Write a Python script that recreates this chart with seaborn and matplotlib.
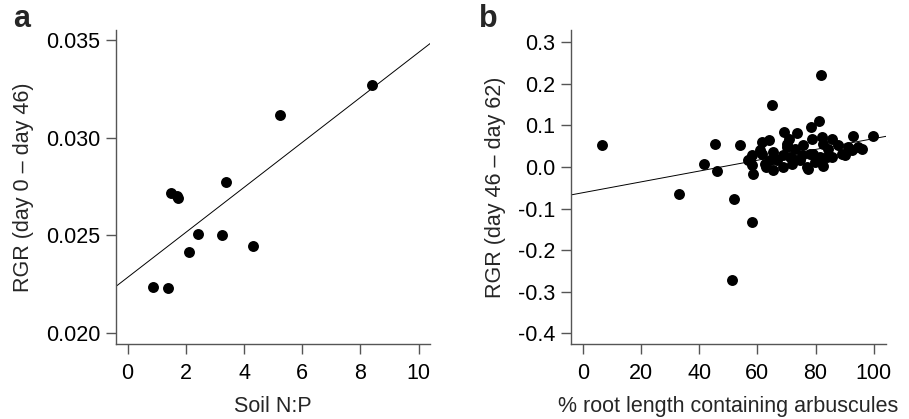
import numpy as np
import pandas as pd
import matplotlib
matplotlib.use('Agg')
import matplotlib.pyplot as plt
import seaborn as sns

sns.set_style("ticks")
plt.rcParams['font.family'] = ['Liberation Sans', 'DejaVu Sans']
plt.rcParams['axes.unicode_minus'] = False

# panel a: soil N:P vs RGR (day 0 - day 46)
soil_np = [0.88, 1.40, 1.49, 1.68, 1.72, 2.11, 2.42, 3.24, 3.38, 4.32, 5.23, 8.41]
rgr_early = [0.02235, 0.02233, 0.02719, 0.02702, 0.0269, 0.02414, 0.02508,
             0.02501, 0.02772, 0.02445, 0.03115, 0.03271]

# panel b: % root length with arbuscules vs RGR (day 46 - day 62)
arb_pct = [6.5, 33.1, 41.7, 45.4, 46.0, 52.0, 51.3, 58.3, 54.1, 64.9, 82.0, 99.9, 93.0,
           57.5, 58.1, 58.6, 56.9, 58.1, 60.9, 61.5, 64.1, 61.5, 62.6, 64.4, 65.5,
           65.5, 66.7, 69.2, 70.1, 70.7, 68.9, 70.1, 71.2, 68.9, 71.8, 73.7, 73.0,
           72.4, 74.7, 75.8, 75.3, 78.4, 81.3, 78.7, 78.1, 77.0, 77.5, 79.8, 79.2,
           82.1, 82.7, 81.5, 82.7, 83.8, 85.6, 84.4, 85.6, 87.8, 89.0, 90.1, 91.3,
           92.4, 94.7, 95.9, 63.0]
rgr_late = [0.052, -0.064, 0.006, 0.054, -0.010, -0.077, -0.272, -0.132, 0.052, 0.148,
            0.220, 0.075, 0.074,
            0.020, 0.004, -0.016, 0.016, 0.028, 0.040, 0.060, 0.064, 0.032, 0.008,
            0.016, 0.036, -0.008, 0.016, 0.084, 0.056, 0.068, 0.028, 0.048, 0.024,
            0.000, 0.008, 0.082, 0.044, 0.020, 0.016, 0.052, 0.028, 0.096, 0.110,
            0.068, 0.032, 0.000, -0.006, 0.012, 0.032, 0.072, 0.056, 0.024, 0.002,
            0.024, 0.068, 0.044, 0.024, 0.052, 0.032, 0.028, 0.048, 0.040, 0.048,
            0.044, 0.000]

df_a = pd.DataFrame({'np': soil_np, 'rgr': rgr_early})
df_b = pd.DataFrame({'arb': arb_pct, 'rgr': rgr_late})

FS = 15.5
SPINE = '#555555'

fig = plt.figure(figsize=(9.09, 4.19), dpi=100)
ax_a = fig.add_axes([0.1273, 0.179, 0.3461, 0.7494])
ax_b = fig.add_axes([0.628, 0.179, 0.3467, 0.7494])


def style_axis(ax):
    sns.despine(ax=ax)
    for s in ['left', 'bottom']:
        ax.spines[s].set_color(SPINE)
        ax.spines[s].set_linewidth(1.0)
    ax.tick_params(axis='both', direction='out', length=7, width=1.0,
                   color=SPINE, labelsize=FS, labelcolor='black')
    ax.tick_params(axis='x', pad=7)
    ax.tick_params(axis='y', pad=4)


# 패널 a
ax_a.set_xlim(-0.41, 10.4)
ax_a.set_ylim(0.01945, 0.03551)
sns.scatterplot(data=df_a, x='np', y='rgr', ax=ax_a, color='black', s=62,
                edgecolor='black', linewidth=0)
sns.regplot(data=df_a, x='np', y='rgr', ax=ax_a, scatter=False, ci=None,
            truncate=False, color='black', line_kws={'linewidth': 0.7})
ax_a.set_xlim(-0.41, 10.4)
ax_a.set_ylim(0.01945, 0.03551)
ax_a.set_xticks([0, 2, 4, 6, 8, 10])
ax_a.set_yticks([0.020, 0.025, 0.030, 0.035])
ax_a.set_yticklabels(['0.020', '0.025', '0.030', '0.035'])
ax_a.set_xlabel('Soil N:P', fontsize=FS, labelpad=8)
ax_a.set_ylabel('RGR (day 0 – day 46)', fontsize=FS, labelpad=9)
style_axis(ax_a)

# 패널 b
ax_b.set_xlim(-4.1, 104.2)
ax_b.set_ylim(-0.4255, 0.329)
sns.scatterplot(data=df_b, x='arb', y='rgr', ax=ax_b, color='black', s=62,
                edgecolor='black', linewidth=0)
sns.regplot(data=df_b, x='arb', y='rgr', ax=ax_b, scatter=False, ci=None,
            truncate=False, color='black', line_kws={'linewidth': 0.7})
ax_b.set_xlim(-4.1, 104.2)
ax_b.set_ylim(-0.4255, 0.329)
ax_b.set_xticks([0, 20, 40, 60, 80, 100])
ax_b.set_yticks([-0.4, -0.3, -0.2, -0.1, 0.0, 0.1, 0.2, 0.3])
ax_b.set_yticklabels(['-0.4', '-0.3', '-0.2', '-0.1', '0.0', '0.1', '0.2', '0.3'])
ax_b.set_xlabel('% root length containing arbuscules', fontsize=FS, labelpad=8)
ax_b.set_ylabel('RGR (day 46 – day 62)', fontsize=FS, labelpad=9)
style_axis(ax_b)

fig.text(0.014, 0.935, 'a', fontsize=22, fontweight='bold', va='baseline')
fig.text(0.527, 0.935, 'b', fontsize=22, fontweight='bold', va='baseline')

plt.savefig('out.png', dpi=100)
plt.close()
